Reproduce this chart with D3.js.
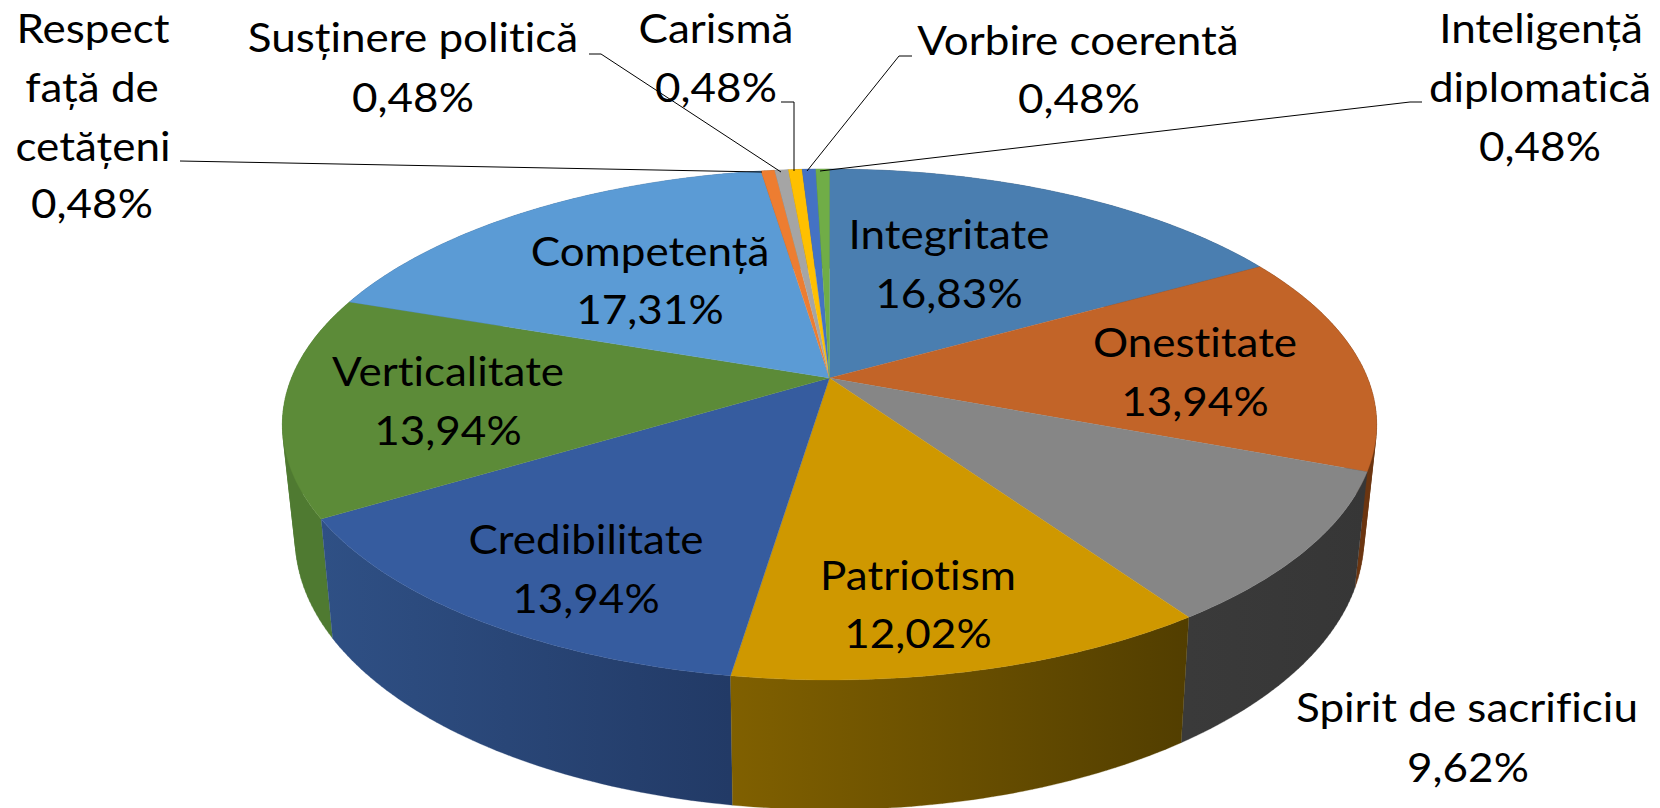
<!DOCTYPE html>
<html><head><meta charset="utf-8">
<script src="https://cdn.jsdelivr.net/npm/d3@7"></script>
<style>html,body{margin:0;padding:0;background:#fff}svg{display:block}text{font-family:Lato,sans-serif;font-size:40px;fill:#000;text-anchor:middle;font-variant-ligatures:none}</style>
</head><body><svg id="c" width="1660" height="808"></svg>
<script>
const categories=["Integritate","Onestitate","Spirit de sacrificiu","Patriotism","Credibilitate","Verticalitate","Competență","Respect față de cetățeni","Susținere politică","Carismă","Vorbire coerentă","Inteligență diplomatică"];
const values=[16.83,13.94,9.62,12.02,13.94,13.94,17.31,0.48,0.48,0.48,0.48,0.48];
const topColors=["#4a7eb0","#c26428","#868686","#cf9800","#365c9f","#5c8b38","#5b9bd5","#ed7d31","#a5a5a5","#ffc000","#4472c4","#70ad47"];
const rimLeft=["#2c4c6a","#6b3510","#3a3a3a","#806000","#2f5085","#4f7a31","#37618a","#8e4b1d","#636363","#997300","#294476","#43682b"];
const rimRight=["#2c4c6a","#6b3510","#363636","#523e00","#223a66","#4f7a31","#37618a","#8e4b1d","#636363","#997300","#294476","#43682b"];
// label lines: [text, centre x, baseline y]
const labelLines=[
 ["Integritate",949,249],["16,83%",949,308],
 ["Onestitate",1195,357],["13,94%",1195,416],
 ["Competență",650,266],["17,31%",650,324],
 ["Verticalitate",448,386],["13,94%",448,445],
 ["Credibilitate",586,554],["13,94%",586,613],
 ["Patriotism",918,590],["12,02%",918,648],
 ["Spirit de sacrificiu",1467,722],["9,62%",1468,782],
 ["Respect",93,43],["față de",92,102],["cetățeni",93,161],["0,48%",92,218],
 ["Susținere politică",413,52],["0,48%",413,112],
 ["Carismă",716,43],["0,48%",716,102],
 ["Vorbire coerentă",1078,55],["0,48%",1079,113],
 ["Inteligență",1541,43],["diplomatică",1540,102],["0,48%",1540,161]
];
const leaderLines=[
 [[180,161],[762,172]],
 [[589,54],[601,54],[781,172]],
 [[781,102],[794,102],[794,171]],
 [[912,56],[899,56],[807,171]],
 [[1422,102],[1410,102],[820,171]]
];

const svg=d3.select("#c"), defs=svg.append("defs");
const cx=829.5, cy=378, Sx=538, Sy=247, k=0.182;
const cyB=488.9, SxB=525, SyB=261.4, kB=0.185;
const pie=d3.pie().sort(null).value(d=>d);
const arcs=pie(values);
const topPt=a=>{const u=Math.sin(a),v=-Math.cos(a),w=1-k*v;return [cx+Sx*u/w,cy+Sy*v/w];};
const botPt=a=>{const u=Math.sin(a),v=-Math.cos(a),w=1-kB*v;return [cx+SxB*u/w,cyB+SyB*v/w];};
const samples=d=>{const n=Math.max(4,Math.ceil((d.endAngle-d.startAngle)*60));return d3.range(n+1).map(i=>d.startAngle+(d.endAngle-d.startAngle)*i/n);};
const pathOf=d3.line();

// gradients for the rims
arcs.forEach((d,i)=>{
  const xs=samples(d).map(a=>topPt(a)[0]);
  const g=defs.append("linearGradient").attr("id","rim"+i).attr("gradientUnits","userSpaceOnUse")
    .attr("x1",d3.min(xs)).attr("x2",d3.max(xs)).attr("y1",0).attr("y2",0);
  g.append("stop").attr("offset",0).attr("stop-color",rimLeft[i]);
  g.append("stop").attr("offset",1).attr("stop-color",rimRight[i]);
});
// rims, back to front; each is a strip of quads so the straight silhouette wall is swept
const order=arcs.map((d,i)=>i).sort((a,b)=>{
  const f=d=>Math.cos((d.startAngle+d.endAngle)/2);
  return f(arcs[b])-f(arcs[a]);
});
const rimPath=d=>{
  const s=samples(d);
  return d3.pairs(s).map(([a,b])=>{
    const q=[topPt(a),topPt(b),botPt(b),botPt(a)];
    if(d3.polygonArea(q)<0) q.reverse();
    return pathOf(q)+"Z";
  }).join("");
};
svg.append("g").selectAll("path").data(order).join("path")
  .attr("d",i=>rimPath(arcs[i]))
  .attr("fill",i=>`url(#rim${i})`).attr("stroke",i=>`url(#rim${i})`).attr("stroke-width",0.3);
// top face
svg.append("g").selectAll("path").data(arcs).join("path")
  .attr("d",d=>pathOf([[cx,cy]].concat(samples(d).map(topPt)))+"Z")
  .attr("fill",(d,i)=>topColors[i]).attr("stroke",(d,i)=>topColors[i]).attr("stroke-width",0.3);
// leader lines
svg.append("g").selectAll("path").data(leaderLines).join("path")
  .attr("d",pathOf).attr("fill","none").attr("stroke","#000").attr("stroke-width",1);
// labels: Lato is slightly narrower than the reference face, widen to match
svg.append("g").selectAll("text").data(labelLines).join("text")
  .attr("x",d=>d[1]).attr("y",d=>d[2]).text(d=>d[0])
  .attr("lengthAdjust","spacingAndGlyphs")
  .attr("textLength",function(){return this.getComputedTextLength()*1.1;});
</script></body></html>
